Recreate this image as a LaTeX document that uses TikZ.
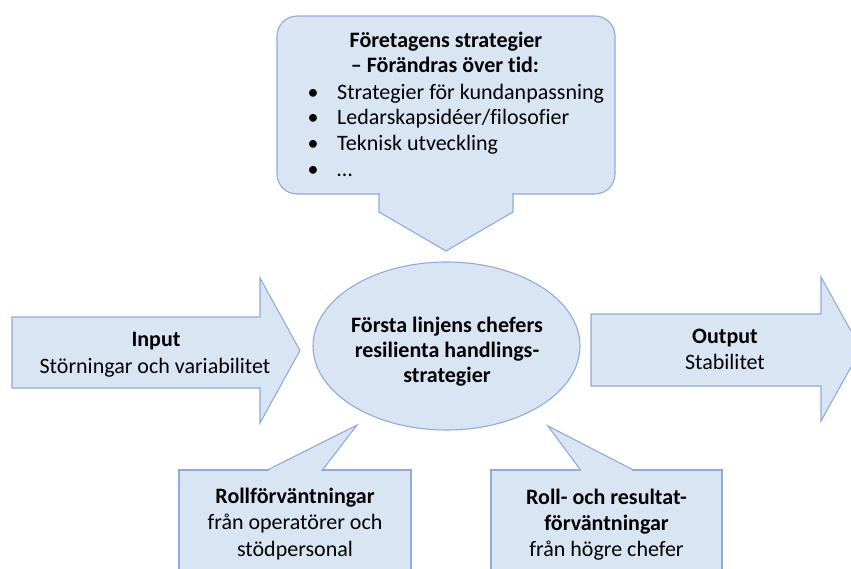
\documentclass[tikz,border=0pt]{standalone}
\usepackage{fontspec}
\setmainfont{Carlito}[Ligatures=NoCommon]
\usetikzlibrary{shapes.geometric}
\definecolor{boxfill}{HTML}{DAE5F3}
\definecolor{boxline}{HTML}{8FAADC}
\begin{document}
\begin{tikzpicture}[x=1pt,y=-1pt,
  shp/.style={fill=boxfill, draw=boxline, line width=1.1pt, line join=miter},
  txt/.style={font=\fontsize{22}{26}\selectfont, inner sep=0pt, anchor=base},
  btxt/.style={txt, font=\fontsize{22}{26}\selectfont\bfseries},
  ltxt/.style={txt, anchor=base west}]
\useasboundingbox (0,0) rectangle (851,568);

% top callout
\node[shp, rectangle, rounded corners=20pt, minimum width=338pt, minimum height=178pt, inner sep=0pt] (topbox) at (446,105) {};
\fill[boxfill] (379,194) -- (379,212) -- (446,251) -- (513,212) -- (513,194) -- cycle;
\fill[boxfill] (379.55,192.5) rectangle (512.45,196);
\draw[boxline, line width=1.1pt] (379,193.45) -- (379,212) -- (446,251) -- (513,212) -- (513,193.45);
\node[btxt] (t1) at (446,47) {Företagens strategier};
\node[btxt] (t2) at (445,72) {– Förändras över tid:};
\node[txt] (d1) at (313,99) {•};
\node[ltxt] (l1) at (337,99) {Strategier för kundanpassning};
\node[txt] (d2) at (313,124.8) {•};
\node[ltxt] (l2) at (337,124.8) {Ledarskapsidéer/filosofier};
\node[txt] (d3) at (313,150.6) {•};
\node[ltxt] (l3) at (337,150.6) {Teknisk utveckling};
\node[txt] (d4) at (313,176.5) {•};
\node[ltxt] (l4) at (337,176.5) {…};

% input arrow
\path[shp] (12,317) -- (260,317) -- (260,278) -- (300,350.5) -- (260,423) -- (260,388) -- (12,388) -- cycle;
\node[btxt] (in1) at (156,346) {Input};
\node[txt] (in2) at (155,373) {Störningar och variabilitet};

% output arrow
\path[shp] (591,314) -- (821,314) -- (821,277) -- (861,349) -- (821,421) -- (821,386) -- (591,386) -- cycle;
\node[btxt] (out1) at (725,343) {Output};
\node[txt] (out2) at (725,369) {Stabilitet};

% centre ellipse
\node[shp, ellipse, minimum width=267pt, minimum height=168pt, inner sep=0pt] (core) at (446.5,346) {};
\node[btxt] (c1) at (447,332) {Första linjens chefers};
\node[btxt] (c2) at (447,357) {resilienta handlings-};
\node[btxt] (c3) at (447,382) {strategier};

% bottom-left callout
\node[shp, rectangle, minimum width=232pt, minimum height=130pt, inner sep=0pt] (blbox) at (295,535) {};
\fill[boxfill] (268,470) -- (357,425) -- (322,470) -- cycle;
\fill[boxfill] (268.8,468.5) rectangle (321.4,472);
\draw[boxline, line width=1.1pt] (267.5,470) -- (357,425) -- (322.5,470);
\node[btxt] (bl1) at (295,503.5) {Rollförväntningar};
\node[txt] (bl2) at (295,529.5) {från operatörer och};
\node[txt] (bl3) at (295,556) {stödpersonal};

% bottom-right callout
\node[shp, rectangle, minimum width=231pt, minimum height=130pt, inner sep=0pt] (brbox) at (606.5,535) {};
\fill[boxfill] (580,470) -- (548,426) -- (633,470) -- cycle;
\fill[boxfill] (580.8,468.5) rectangle (632.2,472);
\draw[boxline, line width=1.1pt] (580.5,470) -- (548,426) -- (633.5,470);
\node[btxt] (br1) at (606.5,504.5) {Roll- och resultat-};
\node[btxt] (br2) at (606.5,530) {förväntningar};
\node[txt] (br3) at (606.5,556) {från högre chefer};
\end{tikzpicture}
\end{document}
